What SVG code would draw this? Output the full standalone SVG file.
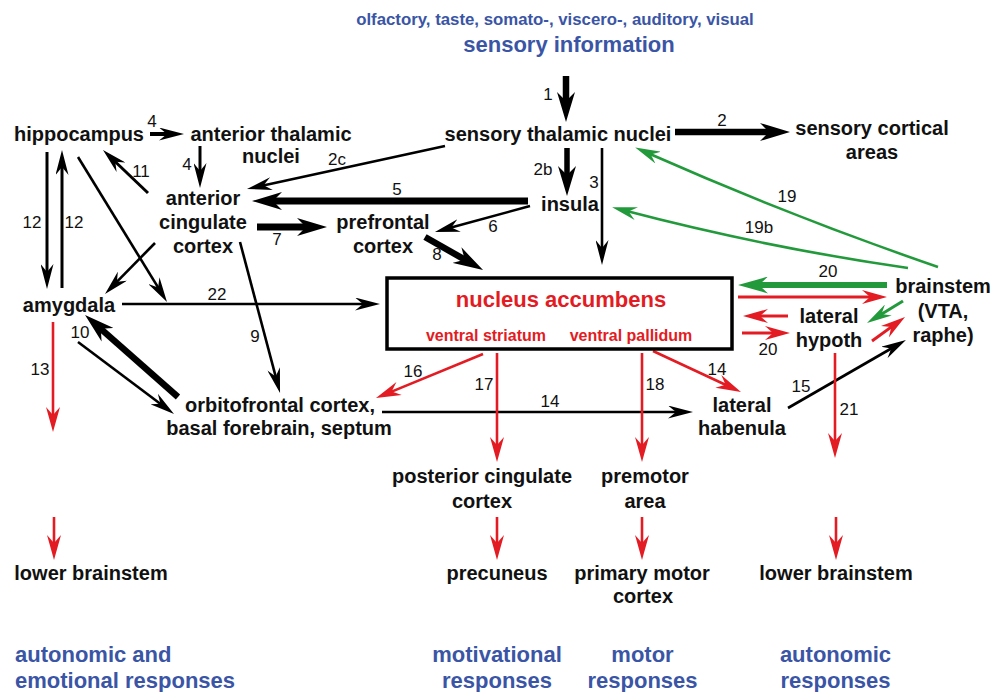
<svg xmlns="http://www.w3.org/2000/svg" width="992" height="692" viewBox="0 0 992 692">
<style>
text{font-family:"Liberation Sans",Arial,Helvetica,sans-serif}
.n{font-size:20px;font-weight:bold;fill:#111;text-anchor:middle}
.nl{font-size:20px;font-weight:bold;fill:#111}
.lab{font-size:17px;fill:#111;text-anchor:middle}
.blue{font-weight:bold;fill:#3a55a5}
.red{font-weight:bold;fill:#e31b23;text-anchor:middle}
.k{stroke:#000;fill:none}
.r{stroke:#e31b23;fill:none}
.g{stroke:#229a3b;fill:none}
.t{stroke-width:2.6}
.T{stroke-width:6.5}
</style>
<defs>
<marker id="h" markerUnits="userSpaceOnUse" markerWidth="25" markerHeight="13" refX="12" refY="6.5" orient="auto"><path d="M0,0 L25,6.5 L0,13 L8,6.5 z" fill="#000"/></marker>
<marker id="hT" markerUnits="userSpaceOnUse" markerWidth="30" markerHeight="18" refX="15" refY="9" orient="auto"><path d="M0,0 L30,9 L0,18 L9,9 z" fill="#000"/></marker>
<marker id="hr" markerUnits="userSpaceOnUse" markerWidth="25" markerHeight="14" refX="12" refY="7" orient="auto"><path d="M0,0 L25,7 L0,14 L8,7 z" fill="#e31b23"/></marker>
<marker id="hg" markerUnits="userSpaceOnUse" markerWidth="25" markerHeight="13" refX="12" refY="6.5" orient="auto"><path d="M0,0 L25,6.5 L0,13 L8,6.5 z" fill="#229a3b"/></marker>
<marker id="hgT" markerUnits="userSpaceOnUse" markerWidth="30" markerHeight="17" refX="15" refY="8.5" orient="auto"><path d="M0,0 L30,8.5 L0,17 L9,8.5 z" fill="#229a3b"/></marker>
</defs>

<g id="title">
<text class="blue" x="555" y="25" font-size="16.8" text-anchor="middle">olfactory, taste, somato-, viscero-, auditory, visual</text>
<text class="blue" x="569" y="52" font-size="22" text-anchor="middle">sensory information</text>
</g>

<g id="connectors">
<!-- black thick -->
<line class="k T" x1="566" y1="76" x2="566" y2="107" marker-end="url(#hT)"/>
<line class="k T" x1="675" y1="132" x2="775" y2="132" marker-end="url(#hT)"/>
<line class="k" stroke-width="5.5" x1="567" y1="148" x2="567" y2="181" marker-end="url(#hT)"/>
<line class="k" stroke-width="7" x1="528" y1="201" x2="267" y2="201" marker-end="url(#hT)"/>
<line class="k" stroke-width="7" x1="257" y1="227" x2="312" y2="227" marker-end="url(#hT)"/>
<line class="k T" x1="425" y1="237" x2="470" y2="262.6" marker-end="url(#hT)"/>
<line class="k T" x1="178" y1="397" x2="96.3" y2="324.9" marker-end="url(#hT)"/>
<!-- black thin -->
<line class="k t" x1="602" y1="148" x2="602" y2="252" marker-end="url(#h)"/>
<line class="k t" x1="445" y1="146" x2="259.7" y2="186.2" marker-end="url(#h)"/>
<line class="k t" x1="530" y1="206" x2="447.5" y2="228.6" marker-end="url(#h)"/>
<line class="k" stroke-width="4" x1="150" y1="134" x2="171" y2="134" marker-end="url(#h)"/>
<line class="k" stroke-width="3" x1="200" y1="146" x2="200" y2="175" marker-end="url(#h)"/>
<line class="k" stroke-width="3" x1="148" y1="193" x2="112.4" y2="159" marker-end="url(#h)"/>
<line class="k" stroke-width="3" x1="47" y1="152" x2="47" y2="276" marker-end="url(#h)"/>
<line class="k" stroke-width="3" x1="62" y1="288" x2="62" y2="163" marker-end="url(#h)"/>
<line class="k t" x1="78" y1="157" x2="160.2" y2="290.9" marker-end="url(#h)"/>
<line class="k t" x1="155" y1="243" x2="114.1" y2="284.7" marker-end="url(#h)"/>
<line class="k t" x1="122" y1="304" x2="367" y2="304" marker-end="url(#h)"/>
<line class="k t" x1="240" y1="242" x2="276.7" y2="380.4" marker-end="url(#h)"/>
<line class="k t" x1="78" y1="342" x2="163.6" y2="406.2" marker-end="url(#h)"/>
<line class="k t" x1="382" y1="412" x2="680" y2="412" marker-end="url(#h)"/>
<line class="k t" x1="788" y1="408" x2="894.7" y2="346.5" marker-end="url(#h)"/>
<!-- red -->
<line class="r t" x1="53" y1="322" x2="53" y2="419" marker-end="url(#hr)"/>
<line class="r t" x1="54" y1="517" x2="54" y2="547" marker-end="url(#hr)"/>
<line class="r t" x1="483" y1="354" x2="388" y2="393.1" marker-end="url(#hr)"/>
<line class="r t" x1="497" y1="353" x2="497" y2="449" marker-end="url(#hr)"/>
<line class="r t" x1="642" y1="353" x2="642" y2="449" marker-end="url(#hr)"/>
<line class="r t" x1="653" y1="351" x2="729.2" y2="386.5" marker-end="url(#hr)"/>
<line class="r t" x1="835" y1="353" x2="835" y2="445" marker-end="url(#hr)"/>
<line class="r t" x1="836" y1="517" x2="836" y2="547" marker-end="url(#hr)"/>
<line class="r t" x1="497" y1="517" x2="497" y2="547" marker-end="url(#hr)"/>
<line class="r t" x1="642" y1="517" x2="642" y2="547" marker-end="url(#hr)"/>
<line class="r" stroke-width="3" x1="738" y1="297" x2="874" y2="297" marker-end="url(#hr)"/>
<line class="r" stroke-width="3" x1="788" y1="316" x2="756" y2="316" marker-end="url(#hr)"/>
<line class="r" stroke-width="3" x1="742" y1="333" x2="777" y2="333" marker-end="url(#hr)"/>
<line class="r" stroke-width="3" x1="872" y1="341" x2="894.5" y2="324.6" marker-end="url(#hr)"/>
<!-- green -->
<line class="g" stroke-width="6" x1="887" y1="285" x2="753" y2="285" marker-end="url(#hgT)"/>
<line class="g" stroke-width="3" x1="903" y1="301" x2="878.1" y2="316.2" marker-end="url(#hg)"/>
<path class="g t" d="M938,267 Q790,216 647.1,152.8" marker-end="url(#hg)"/>
<path class="g t" d="M908,268 Q764.4,247.3 624.7,210.6" marker-end="url(#hg)"/>
</g>

<g id="labels">
<text class="lab" x="548" y="100">1</text>
<text class="lab" x="722" y="126">2</text>
<text class="lab" x="543" y="175">2b</text>
<text class="lab" x="594" y="188">3</text>
<text class="lab" x="337" y="165">2c</text>
<text class="lab" x="397" y="195">5</text>
<text class="lab" x="493" y="232">6</text>
<text class="lab" x="277" y="245">7</text>
<text class="lab" x="437" y="260">8</text>
<text class="lab" x="152" y="127">4</text>
<text class="lab" x="187" y="170">4</text>
<text class="lab" x="141" y="177">11</text>
<text class="lab" x="32" y="228">12</text>
<text class="lab" x="74" y="228">12</text>
<text class="lab" x="217" y="300">22</text>
<text class="lab" x="255" y="342">9</text>
<text class="lab" x="80" y="338">10</text>
<text class="lab" x="40" y="375">13</text>
<text class="lab" x="413" y="377">16</text>
<text class="lab" x="484" y="390">17</text>
<text class="lab" x="655" y="390">18</text>
<text class="lab" x="550" y="407">14</text>
<text class="lab" x="717" y="375">14</text>
<text class="lab" x="801" y="392">15</text>
<text class="lab" x="849" y="415">21</text>
<text class="lab" x="828" y="277">20</text>
<text class="lab" x="768" y="355">20</text>
<text class="lab" x="787" y="202">19</text>
<text class="lab" x="759" y="233">19b</text>
</g>

<g id="hippocampus"><text class="n" x="79" y="141">hippocampus</text></g>
<g id="anterior-thalamic-nuclei"><text class="n" x="271" y="141">anterior thalamic</text><text class="n" x="271" y="163">nuclei</text></g>
<g id="sensory-thalamic-nuclei"><text class="n" x="558" y="141">sensory thalamic nuclei</text></g>
<g id="sensory-cortical-areas"><text class="n" x="872" y="135">sensory cortical</text><text class="n" x="872" y="159">areas</text></g>
<g id="anterior-cingulate-cortex"><text class="n" x="203" y="205">anterior</text><text class="n" x="203" y="229">cingulate</text><text class="n" x="203" y="253">cortex</text></g>
<g id="prefrontal-cortex"><text class="n" x="383" y="229">prefrontal</text><text class="n" x="383" y="253">cortex</text></g>
<g id="insula"><text class="n" x="570" y="211">insula</text></g>
<g id="amygdala"><text class="n" x="69" y="312">amygdala</text></g>
<g id="nucleus-accumbens">
<rect x="387" y="278" width="345" height="71" fill="none" stroke="#000" stroke-width="3.5"/>
<text class="red" x="561" y="307" font-size="22">nucleus accumbens</text>
<text class="red" x="486" y="341" font-size="16">ventral striatum</text>
<text class="red" x="631" y="341" font-size="16">ventral pallidum</text>
</g>
<g id="brainstem"><text class="n" x="943" y="293">brainstem</text><text class="n" x="943" y="318">(VTA,</text><text class="n" x="943" y="342">raphe)</text></g>
<g id="lateral-hypoth"><text class="n" x="829" y="323">lateral</text><text class="n" x="829" y="347">hypoth</text></g>
<g id="orbitofrontal"><text class="n" x="280" y="412">orbitofrontal cortex,</text><text class="n" x="279" y="435">basal forebrain, septum</text></g>
<g id="lateral-habenula"><text class="n" x="742" y="412">lateral</text><text class="n" x="742" y="435">habenula</text></g>
<g id="posterior-cingulate-cortex"><text class="n" x="482" y="483">posterior cingulate</text><text class="n" x="482" y="508">cortex</text></g>
<g id="premotor-area"><text class="n" x="645" y="483">premotor</text><text class="n" x="645" y="508">area</text></g>
<g id="lower-brainstem-left"><text class="n" x="91" y="580">lower brainstem</text></g>
<g id="precuneus"><text class="n" x="497" y="580">precuneus</text></g>
<g id="primary-motor-cortex"><text class="n" x="642" y="580">primary motor</text><text class="n" x="643" y="603">cortex</text></g>
<g id="lower-brainstem-right"><text class="n" x="836" y="580">lower brainstem</text></g>

<g id="responses">
<text class="blue" x="15" y="662" font-size="22">autonomic and</text>
<text class="blue" x="15" y="688" font-size="22">emotional responses</text>
<text class="blue" x="497" y="662" font-size="22" text-anchor="middle">motivational</text>
<text class="blue" x="497" y="688" font-size="22" text-anchor="middle">responses</text>
<text class="blue" x="642.5" y="662" font-size="22" text-anchor="middle">motor</text>
<text class="blue" x="642.5" y="688" font-size="22" text-anchor="middle">responses</text>
<text class="blue" x="835.5" y="662" font-size="22" text-anchor="middle">autonomic</text>
<text class="blue" x="835.5" y="688" font-size="22" text-anchor="middle">responses</text>
</g>
</svg>
